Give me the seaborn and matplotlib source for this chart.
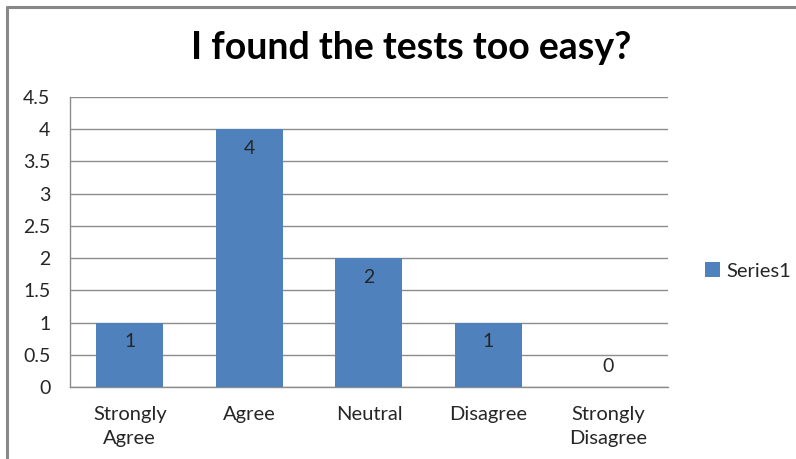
import matplotlib
matplotlib.use("Agg")
import matplotlib.pyplot as plt
from matplotlib.lines import Line2D
from matplotlib.patches import Patch
import seaborn as sns
import pandas as pd

categories = ["Strongly\nAgree", "Agree", "Neutral", "Disagree", "Strongly\nDisagree"]
values = [1, 4, 2, 1, 0]
series_name = "Series1"
title = "I found the tests too easy?"
y_ticks = [0, 0.5, 1, 1.5, 2, 2.5, 3, 3.5, 4, 4.5]

bar_color = "#4F81BD"
grid_color = "#8C8C8C"
text_color = "#262626"

sns.set_theme(style="white")
plt.rcParams["font.family"] = ["Lato", "DejaVu Sans"]

df = pd.DataFrame({"category": categories, "value": values, "series": series_name})

fig = plt.figure(figsize=(7.96, 4.59), dpi=100)
ax = fig.add_axes([0.0879, 0.1569, 0.7513, 0.6318])

sns.barplot(data=df, x="category", y="value", hue="series", palette=[bar_color],
            width=0.56, saturation=1, ax=ax, legend=False, zorder=3,
            edgecolor="none")

ax.set_ylim(0, 4.5)
ax.set_yticks(y_ticks)
ax.set_yticklabels([f"{t:g}" for t in y_ticks], fontsize=14, color=text_color)
ax.set_xticks(range(len(categories)))
ax.set_xticklabels(categories, fontsize=14.5, color=text_color, linespacing=1.5)
ax.tick_params(axis="y", length=0, pad=14)
ax.tick_params(axis="x", length=0, pad=14)
ax.set_xlabel("")
ax.set_ylabel("")

ax.yaxis.grid(True, color=grid_color, linewidth=1.0, zorder=0)
ax.set_axisbelow(True)
for side, sp in ax.spines.items():
    if side in ("left", "bottom"):
        sp.set_color(grid_color)
        sp.set_linewidth(1.0)
    else:
        sp.set_visible(False)

# value labels near the inside top of each bar
for i, v in enumerate(values):
    offset = -14 if v > 0 else 15
    ax.annotate(f"{v:g}", xy=(i, v), xytext=(0, offset), textcoords="offset points",
                ha="center", va="center", fontsize=14, color=text_color, zorder=4)

fig.text(0.5165, 0.895, title, ha="center", va="center", fontsize=27,
         fontweight="bold", color="black")

handles = [Patch(facecolor=bar_color, edgecolor="none", label=series_name)]
fig.legend(handles=handles, loc="center left", bbox_to_anchor=(0.868, 0.41),
           frameon=False, fontsize=14.5, handlelength=0.75, handleheight=0.75,
           handletextpad=0.3, labelcolor=text_color, borderpad=0.2)

# outer chart frame (top and left edges)
fig.add_artist(Line2D([0.0088, 1.0], [0.9847, 0.9847], transform=fig.transFigure,
                      color="#888888", linewidth=2.2))
fig.add_artist(Line2D([0.0088, 0.0088], [0.0, 0.9847], transform=fig.transFigure,
                      color="#888888", linewidth=2.2))

fig.savefig("out.png", dpi=100, facecolor="white")
